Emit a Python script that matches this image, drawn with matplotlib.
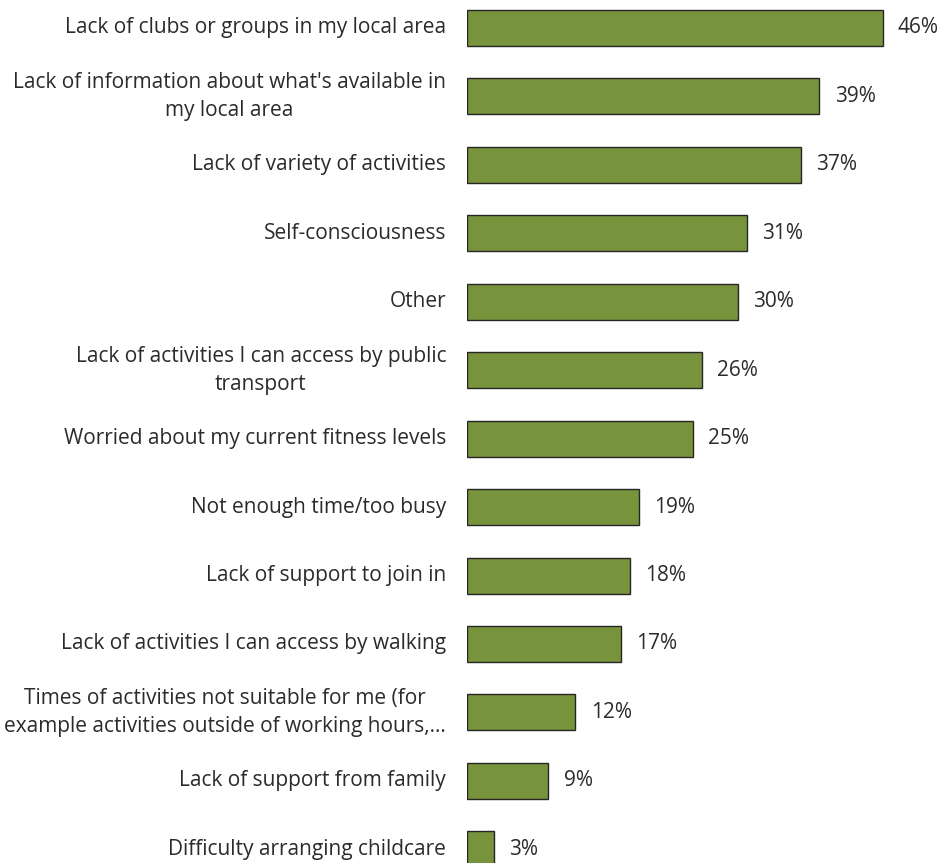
import matplotlib.pyplot as plt

categories = [
    "Lack of clubs or groups in my local area",
    "Lack of information about what's available in\nmy local area",
    "Lack of variety of activities",
    "Self-consciousness",
    "Other",
    "Lack of activities I can access by public\ntransport",
    "Worried about my current fitness levels",
    "Not enough time/too busy",
    "Lack of support to join in",
    "Lack of activities I can access by walking",
    "Times of activities not suitable for me (for\nexample activities outside of working hours,...",
    "Lack of support from family",
    "Difficulty arranging childcare",
]
values = [46, 39, 37, 31, 30, 26, 25, 19, 18, 17, 12, 9, 3]

plt.rcParams['font.family'] = ['Open Sans', 'DejaVu Sans']
text_color = '#2b2b2b'

fig = plt.figure(figsize=(9.44, 8.63), dpi=100)
ax = fig.add_axes([467 / 944, 0, 477 / 944, 1])

pos = list(range(len(categories)))
ax.barh(pos, values, height=0.526, color='#77933C', edgecolor='#262626', linewidth=1)

ax.set_xlim(0, 52.8)
ax.set_ylim(12.2, -0.409)
ax.axis('off')

for y, v, c in zip(pos, values, categories):
    ax.annotate(f"{v}%", (v, y), xytext=(11, 0), textcoords='offset points',
                ha='left', va='center', fontsize=15, color=text_color)
    ax.annotate(c, (0, y), xytext=(-15, 0), textcoords='offset points',
                ha='right', va='center', fontsize=15, color=text_color,
                multialignment='center', linespacing=1.42, annotation_clip=False)

fig.savefig('out.png', dpi=100)
